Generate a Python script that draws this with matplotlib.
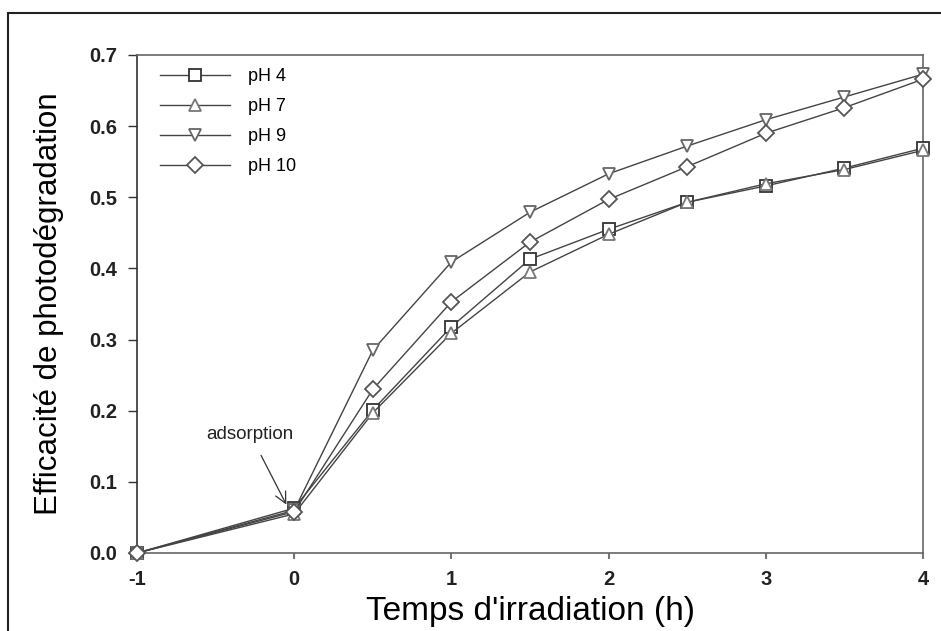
import matplotlib.pyplot as plt
from matplotlib.patches import Rectangle

plt.rcParams['font.family'] = ['Liberation Sans', 'DejaVu Sans']
plt.rcParams['axes.unicode_minus'] = False

temps = [-1, 0, 0.5, 1, 1.5, 2, 2.5, 3, 3.5, 4]
ph4 = [0.0, 0.063, 0.201, 0.318, 0.413, 0.455, 0.493, 0.516, 0.541, 0.569]
ph7 = [0.0, 0.055, 0.197, 0.309, 0.395, 0.448, 0.493, 0.519, 0.539, 0.566]
ph9 = [0.0, 0.060, 0.285, 0.409, 0.479, 0.533, 0.572, 0.609, 0.641, 0.673]
ph10 = [0.0, 0.058, 0.230, 0.353, 0.437, 0.497, 0.543, 0.590, 0.626, 0.666]

series = [
    ("pH 4", ph4, "s", "#333333"),
    ("pH 7", ph7, "^", "#777777"),
    ("pH 9", ph9, "v", "#666666"),
    ("pH 10", ph10, "D", "#555555"),
]

fig = plt.figure(figsize=(9.41, 6.31), dpi=100)
# outer frame around the figure
fig.patches.append(Rectangle((8 / 941, -0.1), 1.2, 1.1 - 13 / 631,
                             transform=fig.transFigure, fill=False,
                             edgecolor="#222222", linewidth=1.5))
ax = fig.add_axes([137 / 941, 1 - 553 / 631, (923 - 137) / 941, (553 - 55) / 631])

for name, vals, mk, ec in series:
    ms = 8 if mk == "D" else 9
    ax.plot(temps, vals, color="#444444", linewidth=1.0, marker=mk,
            markersize=ms, markerfacecolor="white", markeredgecolor=ec,
            markeredgewidth=1.3, label=name, clip_on=False, zorder=3)

ax.set_xlim(-1, 4)
ax.set_ylim(0, 0.7)
ax.set_xticks([-1, 0, 1, 2, 3, 4])
ax.set_yticks([0.0, 0.1, 0.2, 0.3, 0.4, 0.5, 0.6, 0.7])
ax.set_yticklabels(["0.0", "0.1", "0.2", "0.3", "0.4", "0.5", "0.6", "0.7"])
ax.tick_params(axis="y", direction="out", length=6.5, width=1, pad=8,
               colors="#333333", labelcolor="#222222")
ax.tick_params(axis="x", direction="out", length=4, width=1.5, pad=8,
               colors="#777777", labelcolor="#222222")
for lab in ax.get_xticklabels() + ax.get_yticklabels():
    lab.set_fontsize(14.5)
    lab.set_fontweight("bold")
for s in ax.spines.values():
    s.set_color("#666666")
    s.set_linewidth(1.2)
ax.spines["left"].set_color("#333333")

ax.set_xlabel("Temps d'irradiation (h)", fontsize=24, labelpad=5)
ax.set_ylabel("Efficacité de photodégradation", fontsize=22.5, labelpad=18)

ax.annotate("adsorption", xy=(-0.05, 0.068), xytext=(-0.28, 0.167),
            fontsize=13.5, ha="center", va="center", color="#222222",
            arrowprops=dict(arrowstyle="->", color="#333333", lw=0.9,
                            shrinkA=8, shrinkB=0, mutation_scale=20))

leg = ax.legend(loc="upper left", bbox_to_anchor=(0.020, 0.988), frameon=False,
                fontsize=13, handlelength=3.9, handletextpad=0.95,
                labelspacing=0.72, borderaxespad=0.0)

fig.savefig("out.png", dpi=100)
